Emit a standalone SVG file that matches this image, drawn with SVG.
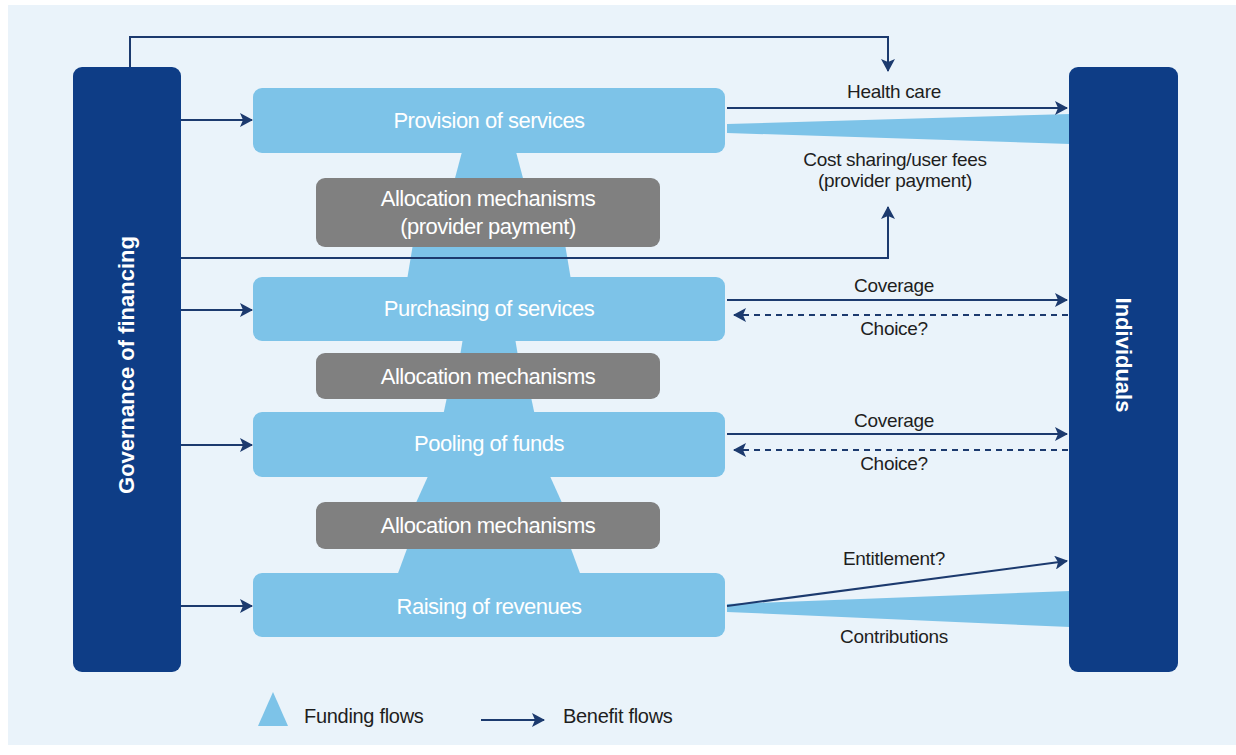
<svg xmlns="http://www.w3.org/2000/svg" width="1236" height="755" viewBox="0 0 1236 755">
<defs>
<style>
.bg{fill:#EAF3FA}
.dark{fill:#0E3D86}
.light{fill:#7DC3E8}
.gray{fill:#808080}
.fund{fill:#7DC3E8}
.ln{stroke:#1C3A6E;stroke-width:2;fill:none}
.dash{stroke-dasharray:6 5}
.bt{font-family:"Liberation Sans",Arial,sans-serif;font-size:22px;fill:#FFFFFF;text-anchor:middle;letter-spacing:-0.5px}
.vt{font-family:"Liberation Sans",Arial,sans-serif;font-size:22px;font-weight:bold;fill:#FFFFFF;text-anchor:middle}
.lb{font-family:"Liberation Sans",Arial,sans-serif;font-size:19px;fill:#1E1E1E;text-anchor:middle;letter-spacing:-0.3px}
.lg{font-family:"Liberation Sans",Arial,sans-serif;font-size:20px;fill:#1E1E1E;letter-spacing:-0.3px}
</style>
<marker id="ah" viewBox="0 0 14 14" markerWidth="14" markerHeight="14" refX="12" refY="7" orient="auto" markerUnits="userSpaceOnUse">
<path d="M0,0 L13,7 L0,14 L3,7 Z" fill="#1C3A6E"/>
</marker>
</defs>
<rect x="0" y="0" width="1236" height="755" fill="#FFFFFF"/>
<rect class="bg" x="8" y="5" width="1228" height="740"/>

<g id="funding-flows">
<polygon class="fund" points="463,148 515,148 524,182 454,182"/>
<polygon class="fund" points="413,244 565,244 571,280 407,280"/>
<polygon class="fund" points="463,338 515,338 518,356 460,356"/>
<polygon class="fund" points="447,397 531,397 535,416 443,416"/>
<polygon class="fund" points="429,474 549,474 563,505 415,505"/>
<polygon class="fund" points="408,546 570,546 581,576 397,576"/>
<polygon class="fund" points="727,124 1070,114 1070,144 727,133"/>
<polygon class="fund" points="727,604 1070,591 1070,627 727,612"/>
</g>

<g id="governance">
<rect class="dark" x="73" y="67" width="108" height="605" rx="9"/>
<text class="vt" transform="translate(134,365) rotate(-90)">Governance of financing</text>
</g>
<g id="individuals">
<rect class="dark" x="1069" y="67" width="109" height="605" rx="9"/>
<text class="vt" transform="translate(1116,355) rotate(90)">Individuals</text>
</g>

<g id="provision">
<rect class="light" x="253" y="88" width="472" height="65" rx="9"/>
<text class="bt" x="489" y="128">Provision of services</text>
</g>
<g id="alloc1">
<rect class="gray" x="316" y="178" width="344" height="69" rx="9"/>
<text class="bt" x="488" y="206">Allocation mechanisms</text>
<text class="bt" x="488" y="234">(provider payment)</text>
</g>
<g id="purchasing">
<rect class="light" x="253" y="277" width="472" height="64" rx="9"/>
<text class="bt" x="489" y="316">Purchasing of services</text>
</g>
<g id="alloc2">
<rect class="gray" x="316" y="353" width="344" height="46" rx="9"/>
<text class="bt" x="488" y="384">Allocation mechanisms</text>
</g>
<g id="pooling">
<rect class="light" x="253" y="412" width="472" height="65" rx="9"/>
<text class="bt" x="489" y="451">Pooling of funds</text>
</g>
<g id="alloc3">
<rect class="gray" x="316" y="502" width="344" height="47" rx="9"/>
<text class="bt" x="488" y="533">Allocation mechanisms</text>
</g>
<g id="raising">
<rect class="light" x="253" y="573" width="472" height="64" rx="9"/>
<text class="bt" x="489" y="614">Raising of revenues</text>
</g>

<g id="connectors">
<polyline class="ln" points="130,67 130,37 888,37 888,71" marker-end="url(#ah)"/>
<polyline class="ln" points="181,258 888,258 888,207" marker-end="url(#ah)"/>
<line class="ln" x1="181" y1="120" x2="252" y2="120" marker-end="url(#ah)"/>
<line class="ln" x1="181" y1="310" x2="252" y2="310" marker-end="url(#ah)"/>
<line class="ln" x1="181" y1="445" x2="252" y2="445" marker-end="url(#ah)"/>
<line class="ln" x1="181" y1="606" x2="252" y2="606" marker-end="url(#ah)"/>
<line class="ln" x1="727" y1="108" x2="1067" y2="108" marker-end="url(#ah)"/>
<line class="ln" x1="727" y1="300" x2="1067" y2="300" marker-end="url(#ah)"/>
<line class="ln dash" x1="1068" y1="315" x2="734" y2="315" marker-end="url(#ah)"/>
<line class="ln" x1="727" y1="434" x2="1067" y2="434" marker-end="url(#ah)"/>
<line class="ln dash" x1="1068" y1="450" x2="734" y2="450" marker-end="url(#ah)"/>
<line class="ln" x1="727" y1="606" x2="1067" y2="561" marker-end="url(#ah)"/>
</g>

<g id="labels">
<text class="lb" x="894" y="98">Health care</text>
<text class="lb" x="895" y="166">Cost sharing/user fees</text>
<text class="lb" x="895" y="187">(provider payment)</text>
<text class="lb" x="894" y="292">Coverage</text>
<text class="lb" x="894" y="335">Choice?</text>
<text class="lb" x="894" y="427">Coverage</text>
<text class="lb" x="894" y="470">Choice?</text>
<text class="lb" x="894" y="565">Entitlement?</text>
<text class="lb" x="894" y="643">Contributions</text>
</g>

<g id="legend">
<polygon class="fund" points="273,692 288,726 258,726"/>
<text class="lg" x="304" y="723">Funding flows</text>
<line class="ln" x1="481" y1="720" x2="544" y2="720" marker-end="url(#ah)"/>
<text class="lg" x="563" y="723">Benefit flows</text>
</g>
</svg>
